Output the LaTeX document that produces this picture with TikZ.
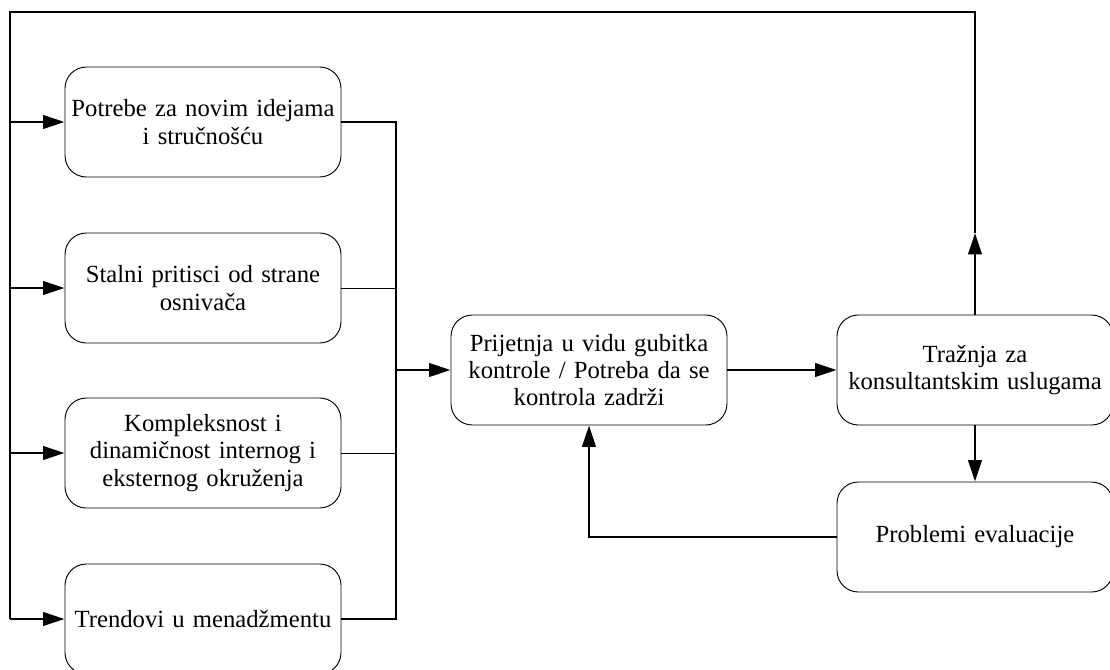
\documentclass[tikz,border=0pt]{standalone}
\usepackage{fontspec}
\setmainfont{Liberation Serif}
\usetikzlibrary{arrows.meta}
\begin{document}
\begin{tikzpicture}[x=0.75pt,y=-0.75pt,
      box/.style={draw,line width=0.7pt,rounded corners=16pt,minimum width=207pt,
        minimum height=82.5pt,text width=204pt,align=center,inner sep=0pt,
        font=\fontsize{18.5}{20.5}\selectfont},
      wire/.style={line width=2pt},
      thinwire/.style={line width=0.75pt},
      flow/.style={line width=2pt,-{Triangle[length=16pt,width=10pt]}}]
      \useasboundingbox (0,0) rectangle (1110,669);
      \clip (0,0) rectangle (1110,669);
      \node[box] (potrebe) at (203,122) {Potrebe za novim idejama\\ i stručnošću};
      \node[box] (stalni) at (203,288) {Stalni pritisci od strane\\ osnivača};
      \node[box] (kompleks) at (203,453) {Kompleksnost i\\ dinamičnost internog i\\ eksternog okruženja};
      \node[box] (trendovi) at (203,619) {Trendovi u menadžmentu};
      \node[box] (prijetnja) at (589,370) {Prijetnja u vidu gubitka\\ kontrole / Potreba da se\\ kontrola zadrži};
      \node[box] (traznja) at (975,370) {Tražnja za\\ konsultantskim uslugama};
      \node[box] (problemi) at (975,537) {Problemi evaluacije};
      \coordinate (lt) at (10,12);
      \coordinate (rt) at (975,12);
      \coordinate (up) at (975,233);
      \coordinate (bus) at (396,370);
      \draw[wire] (up) -- (rt) -- (lt) -- (lt |- trendovi.west);
      \draw[flow] (traznja.north) -- (up);
      \foreach \n in {potrebe,stalni,kompleks,trendovi}
        \draw[flow] (lt |- \n.west) -- (\n.west);
      \draw[wire] (potrebe.east) -- (bus |- potrebe.east) -- (bus |- trendovi.east) -- (trendovi.east);
      \draw[thinwire] (stalni.east) -- (bus |- stalni.east);
      \draw[thinwire] (kompleks.east) -- (bus |- kompleks.east);
      \draw[flow] (bus) -- (prijetnja.west);
      \draw[flow] (prijetnja.east) -- (traznja.west);
      \draw[flow] (traznja.south) -- (problemi.north);
      \draw[flow] (problemi.west) -| (prijetnja.south);
    \end{tikzpicture}
\end{document}
